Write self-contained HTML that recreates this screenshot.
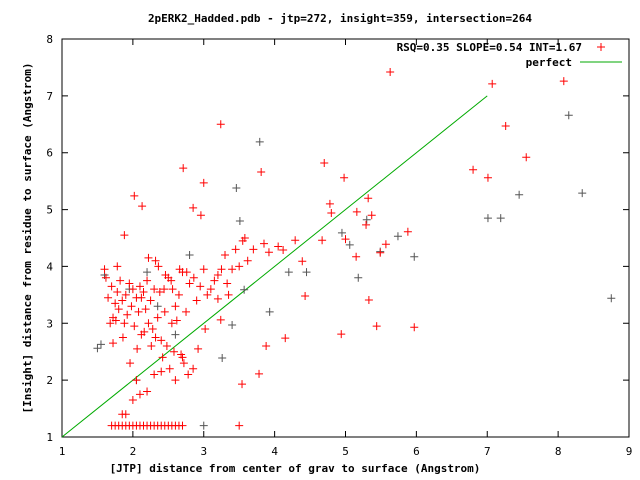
<!DOCTYPE html>
<html><head><meta charset="utf-8"><style>
body{margin:0;background:#fff}
svg{display:block;font-family:"DejaVu Sans Mono","Liberation Mono",monospace;font-size:11px}
</style></head><body>
<svg id="chart" width="640" height="480" viewBox="0 0 640 480">
<rect x="0" y="0" width="640" height="480" fill="#fff"/>
<text x="340" y="22" text-anchor="middle" font-weight="bold">2pERK2_Hadded.pdb - jtp=272, insight=359, intersection=264</text>
<g id="axes"></g>
<g id="marks"></g>
<text x="295" y="472" text-anchor="middle" font-weight="bold">[JTP] distance from center of grav to surface (Angstrom)</text>
<text transform="translate(31,238) rotate(-90)" text-anchor="middle" font-weight="bold">[Insight] distance from residue to surface (Angstrom)</text>
<g>
<text x="582" y="51" text-anchor="end" font-weight="bold">RSQ=0.35 SLOPE=0.54 INT=1.67</text>
<path d="M597,47h8M601,43v8" stroke="#f00" stroke-width="1"/>
<text x="572" y="66" text-anchor="end" font-weight="bold">perfect</text>
<line x1="580" y1="62" x2="622" y2="62" stroke="#0a0"/>
</g>
</svg>
<script>
const xTicks=[1,2,3,4,5,6,7,8,9];
const yTicks=[1,2,3,4,5,6,7,8];
const redX=[5.63,7.07,8.08,7.26,7.55,3.24,2.71,3.00,3.81,4.70,4.98,6.80,7.01,2.02,2.13,2.85,2.96,4.78,4.80,5.16,5.32,5.29,5.37,5.88,5.97,5.44,4.94,5.33,4.43,4.15,3.78,3.54,3.24,3.20,5.00,4.67,4.29,4.12,4.39,5.15,5.57,5.49,3.58,3.55,3.50,3.45,3.40,3.30,3.33,3.20,3.10,3.05,3.00,2.95,2.90,2.80,2.75,2.70,2.65,2.62,2.60,2.55,2.50,2.45,2.40,2.38,2.35,2.30,2.28,2.25,2.22,2.20,2.18,2.15,2.12,2.10,2.08,2.05,2.02,2.00,1.98,1.95,1.92,1.90,1.88,1.85,1.82,1.80,1.78,1.75,1.72,1.70,1.65,1.62,1.60,2.42,2.48,2.52,2.58,2.68,2.72,2.78,2.85,2.92,3.02,2.32,2.26,2.16,2.06,1.96,1.86,1.76,2.36,2.46,2.56,2.66,2.76,2.86,3.15,3.25,3.35,3.62,3.70,3.85,3.92,4.05,3.88,1.85,1.90,2.05,2.00,2.20,2.30,2.40,2.10,2.60,2.70,1.70,1.75,1.80,1.85,1.90,1.95,2.00,2.05,2.10,2.15,2.20,2.25,2.30,2.35,2.40,2.45,2.50,2.55,2.60,2.65,2.70,3.50,1.72,1.78,2.12,2.22,2.32,2.44,2.54,1.88,1.68];
const redY=[7.42,7.21,7.26,6.47,5.92,6.50,5.73,5.47,5.66,5.82,5.56,5.70,5.56,5.24,5.06,5.03,4.90,5.10,4.94,4.96,5.20,4.73,4.90,4.61,2.93,2.95,2.81,3.41,3.48,2.74,2.11,1.93,3.06,3.43,4.48,4.46,4.46,4.29,4.09,4.17,4.39,4.24,4.50,4.45,4.00,4.30,3.95,4.20,3.70,3.85,3.60,3.50,3.95,3.65,3.40,3.70,3.20,3.90,3.50,3.05,3.30,3.00,3.80,3.20,2.70,3.55,3.10,3.60,2.90,3.40,3.00,3.75,3.25,3.55,2.80,3.65,3.20,3.45,2.95,3.60,3.30,3.70,3.15,3.50,3.00,3.40,3.75,3.25,3.55,3.35,3.10,3.65,3.45,3.80,3.95,2.40,2.60,2.20,2.50,2.45,2.30,2.10,2.20,2.55,2.90,2.75,2.60,2.85,2.55,2.30,2.75,3.05,4.00,3.85,3.60,3.95,3.90,3.80,3.75,3.95,3.50,4.10,4.30,4.40,4.25,4.35,2.60,1.40,1.40,2.00,1.65,1.80,2.10,2.15,1.75,2.00,2.40,1.20,1.20,1.20,1.20,1.20,1.20,1.20,1.20,1.20,1.20,1.20,1.20,1.20,1.20,1.20,1.20,1.20,1.20,1.20,1.20,1.20,1.20,2.65,4.00,3.45,4.15,4.10,3.60,3.75,4.55,3.00];
const grayX=[3.79,7.01,7.19,7.45,8.15,8.34,8.75,5.97,1.50,1.55,1.60,3.46,3.51,3.40,3.26,3.93,4.20,4.45,4.95,5.06,5.18,5.30,5.49,5.74,3.57,3.00,2.05,2.20,2.60,1.95,2.35,2.80];
const grayY=[6.19,4.85,4.85,5.26,6.66,5.29,3.44,4.17,2.56,2.63,3.85,5.38,4.80,2.97,2.39,3.20,3.90,3.90,4.59,4.38,3.80,4.82,4.26,4.53,3.59,1.20,2.00,3.90,2.80,3.60,3.30,4.20];
const L=62,R=629,T=39,B=437;
const sx=v=>L+(v-1)*(R-L)/8, sy=v=>B-(v-1)*(B-T)/7;
const NS="http://www.w3.org/2000/svg";
const axes=document.getElementById('axes'), marks=document.getElementById('marks');
function mk(tag,attrs,parent){const e=document.createElementNS(NS,tag);for(const k in attrs)e.setAttribute(k,attrs[k]);parent.appendChild(e);return e;}
const frame=mk('rect',{x:L,y:T,width:R-L,height:B-T,fill:'none',stroke:'#000'},axes);


xTicks.forEach(v=>{const x=sx(v);
 const t=mk('path',{d:`M${x},${B}v-6M${x},${T}v6`,stroke:'#000'},axes);
 
 
 const l=mk('text',{x:x,y:B+18,'text-anchor':'middle'},axes);l.textContent=v;
 
 });
yTicks.forEach(v=>{const y=sy(v);
 const t=mk('path',{d:`M${L},${y}h6M${R},${y}h-6`,stroke:'#000'},axes);
 
 
 const l=mk('text',{x:L-9,y:y+4,'text-anchor':'end'},axes);l.textContent=v;
 
 });
const pl=mk('line',{x1:sx(1),y1:sy(1),x2:sx(7),y2:sy(7),stroke:'#0a0'},marks);


function cross(x,y,c,name){const p=mk('path',{d:`M${sx(x)-4},${sy(y)}h8M${sx(x)},${sy(y)-4}v8`,stroke:c,'stroke-width':1},marks);
 
 }
grayX.forEach((x,i)=>cross(x,grayY[i],'#555','point-intersection'));
redX.forEach((x,i)=>cross(x,redY[i],'#f00','point-insight'));
</script>
</body></html>
